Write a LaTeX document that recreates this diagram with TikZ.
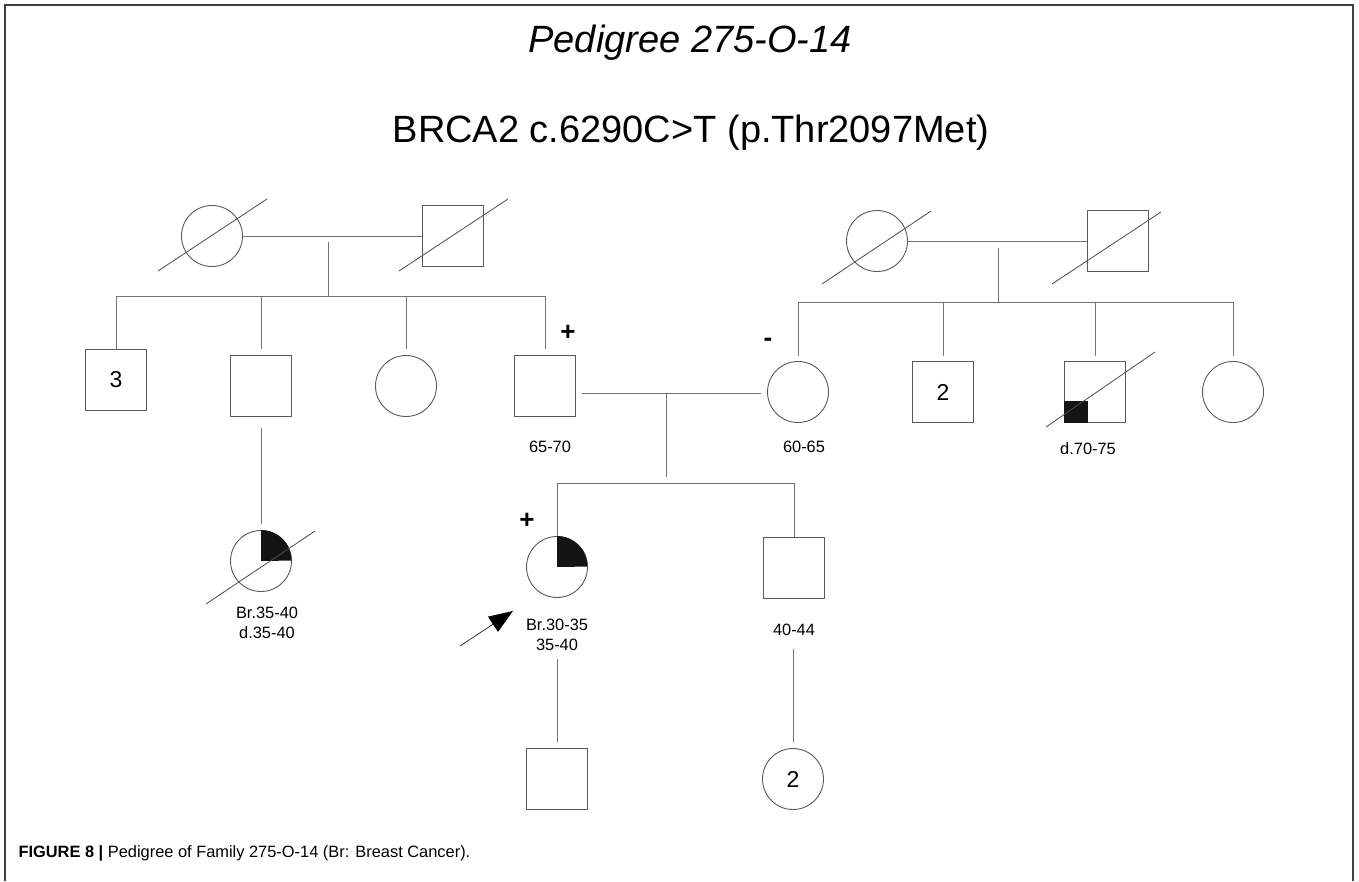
\documentclass[tikz,border=0pt]{standalone}
\usepackage{fontspec}
\setmainfont{Liberation Sans}
\usetikzlibrary{calc,arrows.meta}

\begin{document}
\begin{tikzpicture}[x=1pt, y=-1pt,
  link/.style={draw=black!55, line width=0.9pt},
  male/.style={draw=black!65, line width=0.9pt, rectangle, minimum size=61pt, inner sep=0pt, font=\fontsize{23}{26}\selectfont},
  female/.style={draw=black!65, line width=0.9pt, circle, minimum size=61pt, inner sep=0pt, font=\fontsize{23}{26}\selectfont},
  dead/.style={draw=black!70, line width=0.8pt},
  age/.style={font=\fontsize{16.4}{19.5}\selectfont, align=center},
  carrier/.style={font=\bfseries\fontsize{26}{28}\selectfont}]
  \useasboundingbox (0,0) rectangle (1359,881);
  \draw[black!75, line width=2pt] (5,881) -- (5,5) -- (1353,5) -- (1353,881);
  \node[anchor=base, font=\itshape\fontsize{38}{44}\selectfont] (title) at (690,52) {Pedigree 275-O-14};
  \node[anchor=base, font=\fontsize{38}{44}\selectfont] (variant) at (691,142) {BRCA2 c.6290C>T (p.Thr2097Met)};

  \node[female] (pgm) at (212,236) {};
  \node[male] (pgf) at (453,236) {};
  \node[female] (mgm) at (877,241) {};
  \node[male] (mgf) at (1118,241) {};
  \node[male] (u3) at (116,380) {3};
  \node[male] (u1) at (261,386) {};
  \node[female] (a1) at (406,386) {};
  \node[male] (father) at (545,386) {};
  \node[female] (mother) at (798,392) {};
  \node[male] (mu2) at (943,392) {2};
  \node[male] (mu1) at (1095,392) {};
  \node[female] (ma1) at (1233,392) {};
  \node[female] (cousin) at (261,561) {};
  \node[female] (proband) at (557,567) {};
  \node[male] (brother) at (794,568) {};
  \node[male] (son) at (557,779) {};
  \node[female] (nieces) at (793,779) {2};

  \fill[black!92] (cousin.center) -- (cousin.north) arc[start angle=90, end angle=0, radius=30.5pt] -- cycle;
  \fill[black!92] (proband.center) -- (proband.north) arc[start angle=90, end angle=0, radius=30.5pt] -- cycle;
  \fill[black!92] (mu1.south west) rectangle ++(24,-22);

  \draw[dead] ($(pgm)+(-54,35)$) -- ($(pgm)+(55,-37)$);
  \draw[dead] ($(pgf)+(-54,35)$) -- ($(pgf)+(55,-37)$);
  \draw[dead] ($(mgm)+(-55,43)$) -- ($(mgm)+(54,-30)$);
  \draw[dead] ($(mgf)+(-66,43)$) -- ($(mgf)+(43,-29)$);
  \draw[dead] ($(mu1)+(-49,35)$) -- ($(mu1)+(60,-40)$);
  \draw[dead] ($(cousin)+(-55,43)$) -- ($(cousin)+(54,-30)$);

  \coordinate (famA) at (328,242);
  \coordinate (sibA) at (328,296);
  \draw[link] (pgm) -- (pgf);
  \draw[link] (famA) -- (sibA);
  \draw[link] (u3.north) -- (u3 |- sibA) -- (father |- sibA) -- ([yshift=6pt]father.north);
  \draw[link] (u1 |- sibA) -- ([yshift=6pt]u1.north);
  \draw[link] (a1 |- sibA) -- ([yshift=6pt]a1.north);

  \coordinate (famB) at (998,248);
  \coordinate (sibB) at (998,302);
  \draw[link] (mgm) -- (mgf);
  \draw[link] (famB) -- (sibB);
  \draw[link] ([yshift=5pt]mother.north) -- (mother |- sibB) -- (ma1 |- sibB) -- ([yshift=5pt]ma1.north);
  \draw[link] (mu2 |- sibB) -- ([yshift=5pt]mu2.north);
  \draw[link] (mu1 |- sibB) -- ([yshift=5pt]mu1.north);

  \coordinate (famC) at (666,393);
  \coordinate (sibC) at (666,483);
  \draw[link] ($(father.east |- mother)+(6,1)$) -- ($(mother.west)+(-6,1)$);
  \draw[link] (famC) -- ($(sibC)+(0,-6)$);
  \draw[link] (proband.north) -- (proband |- sibC) -- (brother |- sibC) -- (brother.north);
  \draw[link] ($(u1.south)+(0,11)$) -- ($(cousin.north)+(0,-6)$);
  \draw[link] ($(proband.south)+(0,61)$) -- ($(son.north)+(0,-6)$);
  \draw[link] ($(nieces.north |- brother.south)+(0,50)$) -- ($(nieces.north)+(0,-6)$);

  \coordinate (ptail) at ($(proband)+(-97,79)$);
  \coordinate (ptip) at ($(proband)+(-44,44)$);
  \draw[black!80, line width=0.8pt, -{Triangle[length=24pt,width=18pt,color=black]}] (ptail) -- (ptip);

  \node[age] (lfather) at (550,447) {65-70};
  \node[age] (lmother) at (804,447) {60-65};
  \node[age] (lmu1) at (1088,449) {d.70-75};
  \node[age] (lcousin) at (267,623) {Br.35-40\\d.35-40};
  \node[age] (lproband) at (557,635) {Br.30-35\\35-40};
  \node[age] (lbrother) at (794,630) {40-44};
  \node[carrier] (cfather) at (568,333) {+};
  \node[carrier] (cmother) at (768,342) {-};
  \node[carrier] (cproband) at (527,521) {+};

  \node[anchor=base west, font=\fontsize{16.4}{19}\selectfont] (caption) at (15,857) {\textbf{FIGURE 8 |} Pedigree of Family 275-O-14 (Br: Breast Cancer).};
\end{tikzpicture}
\end{document}
